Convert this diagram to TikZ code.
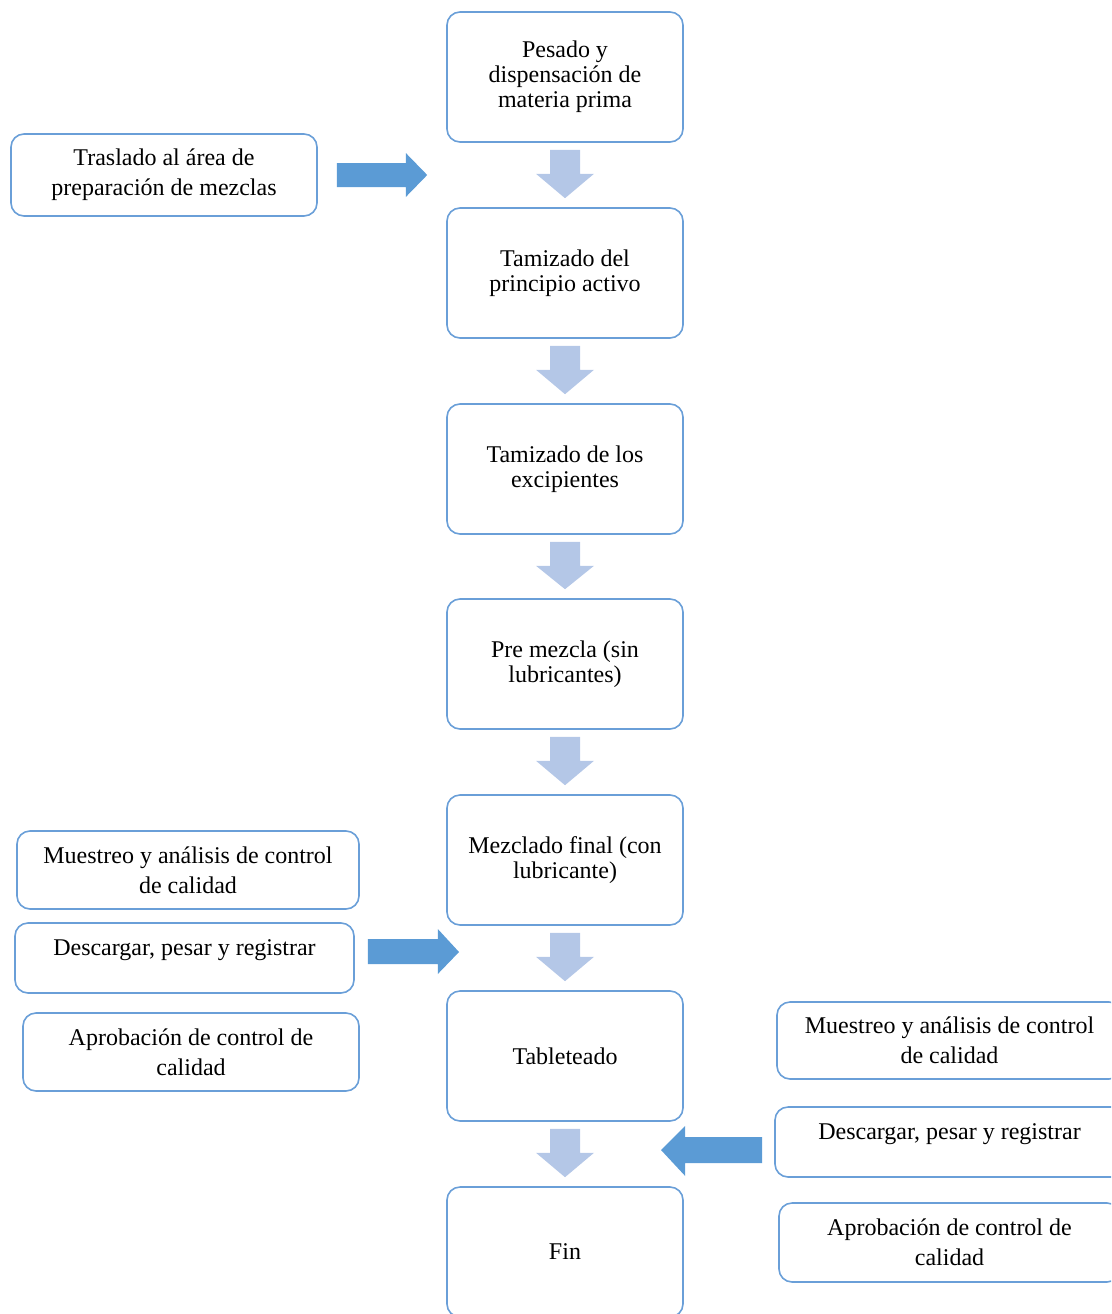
\documentclass[tikz,border=0pt]{standalone}
\usepackage{fontspec}
\setmainfont{Liberation Serif}
\usetikzlibrary{calc}
\definecolor{boxline}{HTML}{6A9FD8}
\definecolor{darkarr}{HTML}{5B9BD5}
\definecolor{lightarr}{HTML}{B4C7E7}
\tikzset{
  mainbox/.style={draw=boxline, line width=1.6pt, rounded corners=13pt, minimum width=236pt, minimum height=130pt, align=center, inner sep=0pt, font=\fontsize{24}{25}\selectfont},
  sidebox/.style={draw=boxline, line width=1.6pt, rounded corners=13pt, align=center, inner sep=0pt, font=\fontsize{24}{30}\selectfont},
  darkfill/.style={fill=darkarr},
  lightfill/.style={fill=lightarr}
}
\newcommand\dnblock[2]{%
  \fill[lightfill] ($(#1.south)+(-15,7)$) -- ($(#1.south)+(15,7)$) -- ($(#1.south)+(15,31)$) -- ($(#1.south)+(29,31)$) -- ($(#2.north)+(0,-9)$) -- ($(#1.south)+(-29,31)$) -- ($(#1.south)+(-15,31)$) -- cycle;}
\newcommand\upshift[1]{\raisebox{8pt}[\height][\depth]{#1}}
\begin{document}
\begin{tikzpicture}[x=1pt,y=-1pt]
\useasboundingbox (0,0) rectangle (1111,1314);
\clip (0,0) rectangle (1111,1314);
% main column
\node[mainbox] (b1) at (565,77) {Pesado y\\dispensación de\\materia prima};
\node[mainbox] (b2) at (565,273) {Tamizado del\\principio activo};
\node[mainbox] (b3) at (565,469) {Tamizado de los\\excipientes};
\node[mainbox] (b4) at (565,664) {Pre mezcla (sin\\lubricantes)};
\node[mainbox] (b5) at (565,860) {Mezclado final (con\\lubricante)};
\node[mainbox] (b6) at (565,1056) {Tableteado};
\node[mainbox] (b7) at (565,1252) {Fin};
\dnblock{b1}{b2}
\dnblock{b2}{b3}
\dnblock{b3}{b4}
\dnblock{b4}{b5}
\dnblock{b5}{b6}
\dnblock{b6}{b7}
% top left
\node[sidebox, minimum width=306pt, minimum height=82pt] (t1) at (164,175) {Traslado al área de\\preparación de mezclas};
\coordinate (t1tip) at (b1.south west |- t1.east);
\fill[darkfill] ($(t1.east)+(19,-12)$) -- ($(t1.east)+(88,-12)$) -- ($(t1.east)+(88,-22)$) -- ($(t1tip)+(-19,0)$) -- ($(t1.east)+(88,22)$) -- ($(t1.east)+(88,12)$) -- ($(t1.east)+(19,12)$) -- cycle;
% left group
\node[sidebox, minimum width=342pt, minimum height=78pt] (l1) at (188,870) {Muestreo y análisis de control\\de calidad};
\node[sidebox, minimum width=339pt, minimum height=70pt] (l2) at (184.5,958) {\upshift{Descargar, pesar y registrar}};
\node[sidebox, minimum width=336pt, minimum height=78pt] (l3) at (191,1052) {Aprobación de control de\\calidad};
\coordinate (l2tip) at (459,952);
\fill[darkfill] ($(l2.east)+(13,-19)$) -- ($(l2.east)+(83,-19)$) -- ($(l2.east)+(83,-29)$) -- (l2tip) -- ($(l2.east)+(83,16)$) -- ($(l2.east)+(83,6)$) -- ($(l2.east)+(13,6)$) -- cycle;
% right group (cut off by the right edge)
\node[sidebox, minimum width=345pt, minimum height=77pt] (r1) at (949.5,1040.5) {Muestreo y análisis de control\\de calidad};
\node[sidebox, minimum width=349pt, minimum height=70pt] (r2) at (949.5,1142) {\upshift{Descargar, pesar y registrar}};
\node[sidebox, minimum width=341pt, minimum height=79pt] (r3) at (949.5,1242.5) {Aprobación de control de\\calidad};
\coordinate (r2tip) at (661,1150);
\fill[darkfill] ($(r2.west)+(-12,-5)$) -- ($(r2.west)+(-12,21)$) -- ($(r2.west)+(-89,21)$) -- ($(r2.west)+(-89,34)$) -- (r2tip) -- ($(r2.west)+(-89,-16)$) -- ($(r2.west)+(-89,-5)$) -- cycle;
\end{tikzpicture}
\end{document}
